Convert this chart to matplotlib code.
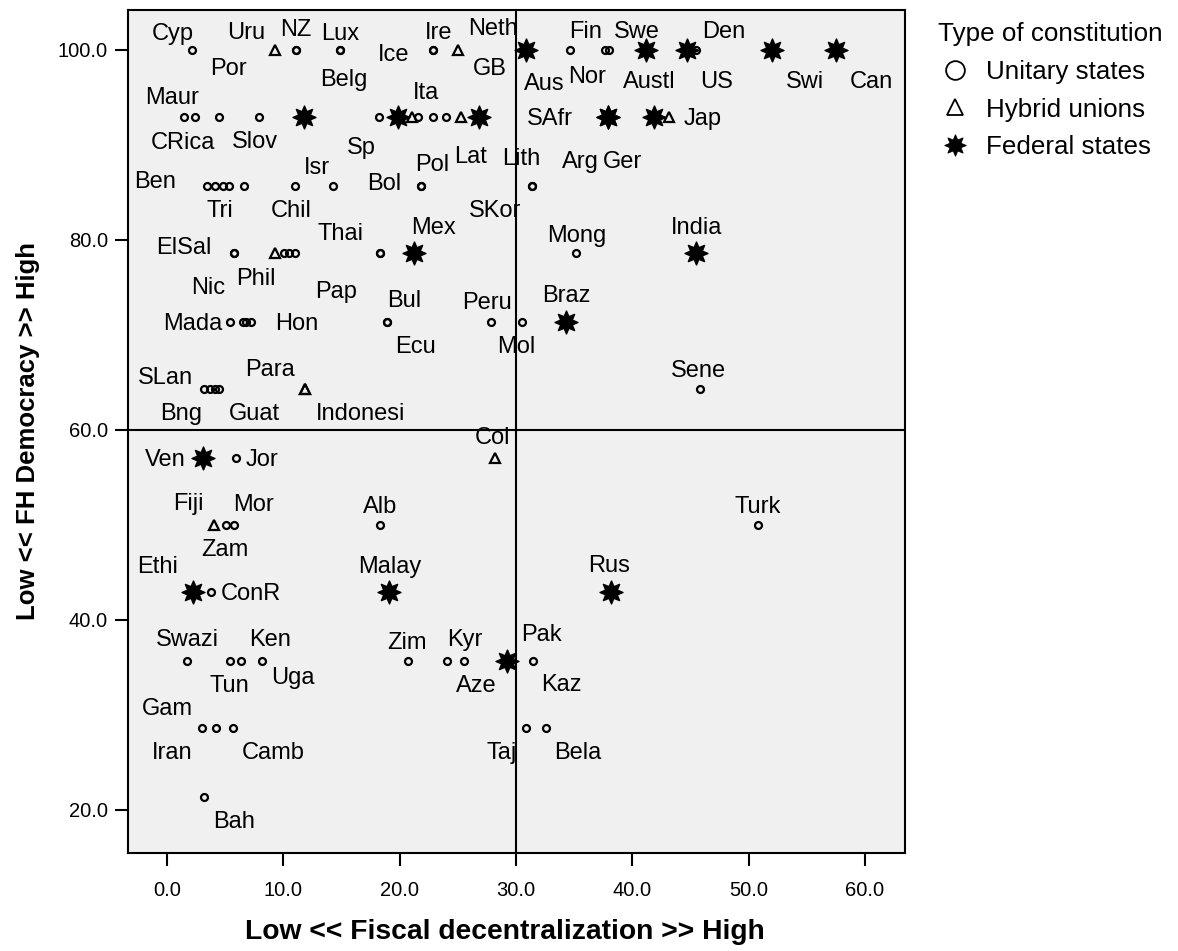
import matplotlib
matplotlib.use("Agg")
import matplotlib.pyplot as plt
from matplotlib.path import Path
from matplotlib.lines import Line2D
import numpy as np

plt.rcParams['font.family'] = ['Liberation Sans', 'DejaVu Sans']

# ---------------- data ----------------
names = [
    # FH = 100.0
    'Cyp', 'Uru', 'NZ', 'Por', 'Lux', 'Belg', 'Ire', 'Ice', 'GB', 'Neth', 'Aus', 'Fin',
    'Nor', 'Swe', 'Austl', 'US', 'Den', 'Swi', 'Can',
    # 92.9
    'Maur', 'CRica', '', 'Slov', '', 'Sp', '', 'Ita', '', '', 'Lat', '', '', 'SAfr',
    'Arg', 'Ger', 'Jap',
    # 85.7
    'Ben', 'Tri', '', '', '', 'Chil', 'Isr', 'Bol', 'Pol', 'Lith', 'SKor',
    # 78.6
    'ElSal', 'Nic', 'Phil', '', '', '', 'Thai', 'Pap', 'Mex', 'Mong', 'India',
    # 71.4
    'Mada', '', '', 'Hon', 'Bul', 'Ecu', 'Peru', 'Mol', 'Braz',
    # 64.3
    'SLan', 'Bng', '', 'Guat', 'Para', 'Indonesi', 'Sene',
    # 57.1
    'Ven', 'Jor', 'Col',
    # 50.0
    'Fiji', 'Zam', 'Mor', 'Alb', 'Turk',
    # 42.9
    'Ethi', 'ConR', 'Malay', 'Rus',
    # 35.7
    'Swazi', 'Tun', 'Ken', 'Uga', 'Zim', 'Aze', 'Kyr', 'Pak', 'Kaz',
    # 28.6
    'Gam', 'Iran', 'Camb', 'Taj', 'Bela',
    # 21.4
    'Bah',
]

fiscal = [
    2.15, 9.26, 11.1, 11.1, 14.9, 14.9, 22.9, 22.9, 25.0, 30.9, 30.9, 34.65,
    37.7, 38.0, 41.2, 44.7, 45.5, 52.0, 57.5,
    1.5, 2.45, 4.45, 7.9, 11.8, 18.2, 19.9, 21.1, 21.6, 22.9, 24.0, 25.3, 26.8, 37.9,
    37.9, 41.9, 43.2,
    3.45, 4.15, 4.85, 5.35, 6.6, 11.0, 14.3, 21.8, 21.8, 31.4, 31.4,
    5.76, 5.76, 9.26, 10.1, 10.5, 11.0, 18.3, 18.3, 21.2, 35.2, 45.5,
    5.45, 6.5, 6.8, 7.25, 18.9, 18.9, 27.9, 30.5, 34.3,
    3.2, 3.7, 4.15, 4.5, 11.9, 11.9, 45.8,
    3.1, 5.9, 28.2,
    4.05, 5.1, 5.76, 18.3, 50.8,
    2.24, 3.8, 19.1, 38.15,
    1.75, 5.45, 6.4, 8.2, 20.7, 24.1, 25.5, 29.2, 31.45,
    3.0, 4.25, 5.67, 30.9, 32.6,
    3.2,
]

democracy = (
    [100.0] * 19 + [92.9] * 17 + [85.7] * 11 + [78.6] * 11 + [71.4] * 9 +
    [64.3] * 7 + [57.1] * 3 + [50.0] * 5 + [42.9] * 4 + [35.7] * 9 +
    [28.6] * 5 + [21.4] * 1
)

# U = unitary state, H = hybrid union, F = federal state
ctype = [
    'U', 'H', 'U', 'U', 'U', 'U', 'U', 'U', 'H', 'U', 'F', 'U',
    'U', 'U', 'F', 'F', 'U', 'F', 'F',
    'U', 'U', 'U', 'U', 'F', 'U', 'F', 'H', 'U', 'U', 'U', 'H', 'F', 'F',
    'F', 'F', 'H',
    'U', 'U', 'U', 'U', 'U', 'U', 'U', 'U', 'U', 'U', 'U',
    'U', 'U', 'H', 'U', 'U', 'U', 'U', 'U', 'F', 'U', 'F',
    'U', 'U', 'U', 'U', 'U', 'U', 'U', 'U', 'F',
    'U', 'U', 'U', 'U', 'H', 'H', 'U',
    'F', 'U', 'H',
    'H', 'U', 'U', 'U', 'U',
    'F', 'U', 'F', 'F',
    'U', 'U', 'U', 'U', 'U', 'U', 'U', 'F', 'U',
    'U', 'U', 'U', 'U', 'U',
    'U',
]

type_labels = {'U': 'Unitary states', 'H': 'Hybrid unions', 'F': 'Federal states'}
x_ticks = [0.0, 10.0, 20.0, 30.0, 40.0, 50.0, 60.0]
y_ticks = [20.0, 40.0, 60.0, 80.0, 100.0]

# label placement (pixel offsets of label centre from its point; layout only)
label_offsets = [
    (-19, -18), (-28, -19), (0, -22), (-68, 17), (0, -18), (4, 28), (5, -19), (-40, 3),
    (32, 17), (-33, -23), (18, 32), (16, -20), (-18, 25), (28, -20), (3, 30), (30, 30),
    (28, -20), (33, 30), (36, 30),
    (-12, -21), (-13, 24), None, (-4, 23), None, (-17, 29), None, (14, -26), None, None,
    (24, 38), None, None, (-58, 0), (-27, 43), (-32, 43), (33, 0),
    (-52, -6), (5, 23), None, None, None, (-4, 23), (-16, -20), (-36, -4), (12, -23),
    (-11, -29), (-37, 23),
    (-50, -7), (-26, 33), (-19, 24), None, None, None, (-39, -21), (-44, 37), (20, -27),
    (0, -19), (0, -27),
    (-38, 0), None, None, (45, 0), (17, -23), (29, 23), (-4, -21), (-5, 23), (0, -28),
    (-39, -13), (-29, 23), None, (35, 23), (-35, -21), (55, 23), (-1, -20),
    (-38, 0), (26, 0), (-2, -22),
    (-26, -23), (-1, 23), (20, -22), (0, -20), (0, -20),
    (-35, -27), (40, 0), (1, -27), (-2, -28),
    (0, -23), (-1, 23), (29, -23), (31, 15), (-1, -20), (29, 23), (1, -23), (35, -28),
    (29, 22),
    (-34, -21), (-44, 23), (40, 23), (-25, 23), (32, 23),
    (30, 23),
]

# ---------------- figure ----------------
W, H = 1178, 951
fig = plt.figure(figsize=(W / 100, H / 100), dpi=100)
ax = fig.add_axes([128 / W, 1 - 853 / H, (905 - 128) / W, (853 - 10) / H])
ax.set_facecolor('#F0F0F0')

# 8-pointed star marker
n = 8
ang = np.pi / 2 + np.arange(2 * n) * np.pi / n
rad = np.where(np.arange(2 * n) % 2 == 0, 1.0, 0.55)
verts = np.column_stack([rad * np.cos(ang), rad * np.sin(ang)])
verts = np.vstack([verts, verts[:1]])
star = Path(verts, [Path.MOVETO] + [Path.LINETO] * (2 * n - 1) + [Path.CLOSEPOLY])

styles = {
    'U': dict(marker='o', ms=5.0, mfc='none', mec='black', mew=1.6, zorder=3),
    'F': dict(marker=star, ms=16.5, mfc='black', mec='black', mew=1.0, zorder=4),
    'H': dict(marker='^', ms=7.5, mfc='none', mec='black', mew=1.6, zorder=5),
}

xs = np.array(fiscal)
ys = np.array(democracy)
ts = np.array(ctype)
for t in ['U', 'F', 'H']:
    m = ts == t
    ax.plot(xs[m], ys[m], ls='none', **styles[t])

for name, x, y, off in zip(names, fiscal, democracy, label_offsets):
    if not name or off is None:
        continue
    ax.annotate(name, (x, y), xytext=(off[0] * 0.72, -(off[1] + 2) * 0.72),
                textcoords='offset points', ha='center', va='center',
                fontsize=17, color='black', zorder=2)

ax.axvline(30.0, color='black', lw=1.5, zorder=6)
ax.axhline(60.0, color='black', lw=1.5, zorder=6)

ax.set_xlim(-3.35, 63.45)
ax.set_ylim(15.47, 104.21)
ax.set_xticks(x_ticks)
ax.set_xticklabels([f'{v:.1f}' for v in x_ticks])
ax.set_yticks(y_ticks)
ax.set_yticklabels([f'{v:.1f}' for v in y_ticks])
ax.tick_params(axis='both', direction='out', length=9.5, width=1.5,
               labelsize=14.5, color='black')
ax.tick_params(axis='x', pad=11)
ax.tick_params(axis='y', pad=5)
for s in ax.spines.values():
    s.set_linewidth(1.5)
    s.set_color('black')

ax.set_xlabel('Low << Fiscal decentralization >> High', fontsize=20.3,
              fontweight='bold', labelpad=13)
ax.xaxis.label.set_x((505 - 128) / (905 - 128))
ax.set_ylabel('Low << FH Democracy >> High', fontsize=18.5,
              fontweight='bold', labelpad=13)

handles = [
    Line2D([], [], ls='none', marker='o', ms=13.5, mfc='none', mec='black', mew=1.3),
    Line2D([], [], ls='none', marker='^', ms=12, mfc='none', mec='black', mew=1.3),
    Line2D([], [], ls='none', marker=star, ms=15.5, mfc='black', mec='black', mew=0.6),
]
leg = ax.legend(handles, [type_labels['U'], type_labels['H'], type_labels['F']],
                title='Type of constitution', title_fontsize=18.7, fontsize=18.7,
                loc='upper left', bbox_to_anchor=(931 / W, 1 - 15 / H),
                bbox_transform=fig.transFigure, frameon=False, borderpad=0.27,
                borderaxespad=0, handlelength=1.3, handletextpad=0.54,
                labelspacing=0.53, alignment='left')

fig.savefig('out.png', dpi=100)
